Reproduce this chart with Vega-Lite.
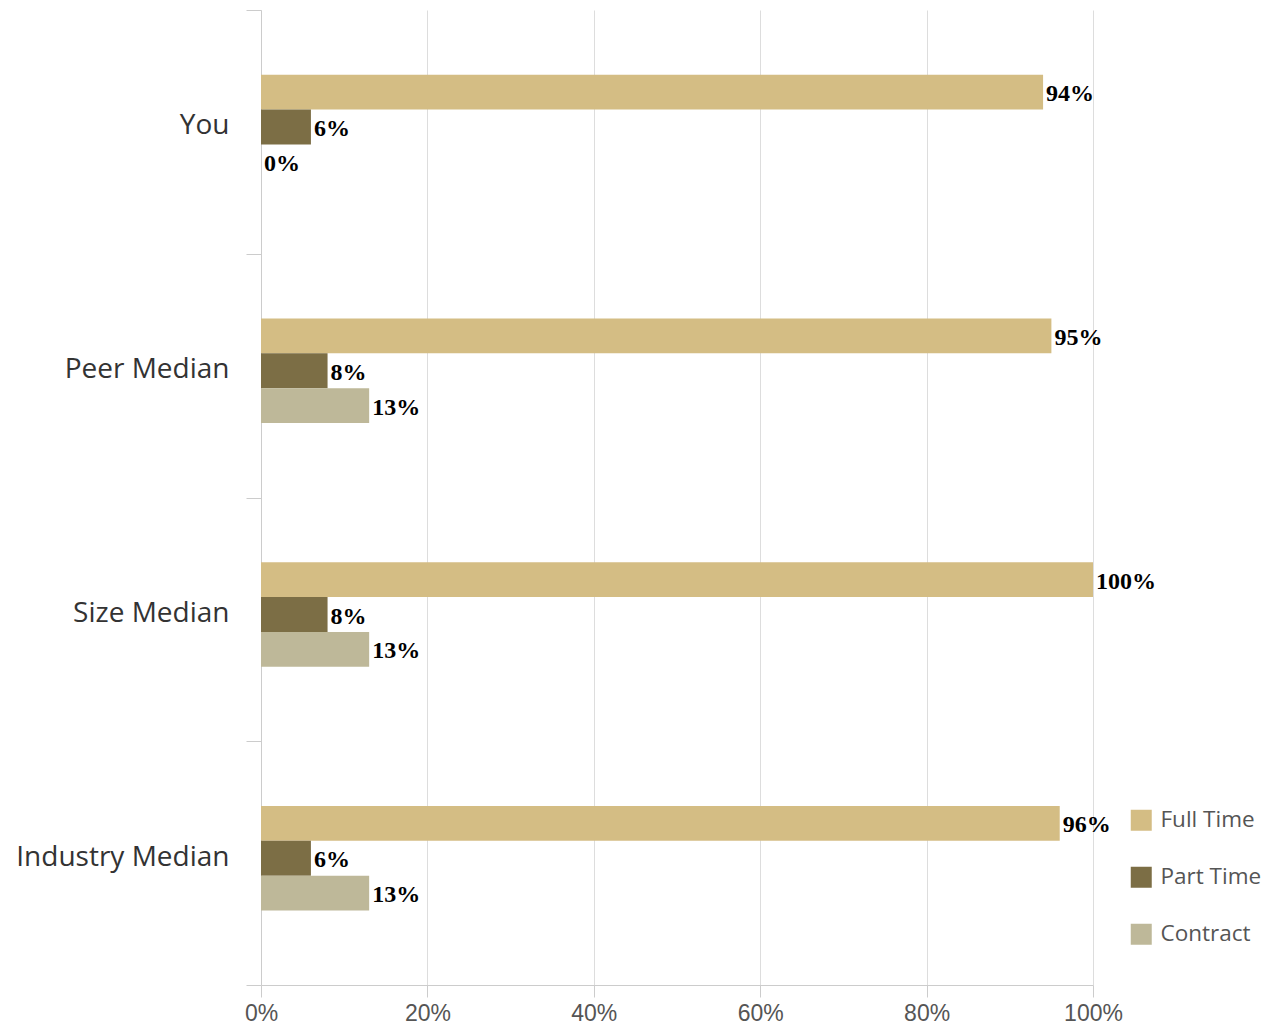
{
  "$schema": "https://vega.github.io/schema/vega-lite/v6.json",
  "autosize": "none",
  "width": 832,
  "height": 975,
  "padding": {"left": 261, "top": 10, "right": 175, "bottom": 42},
  "background": "white",
  "config": {"view": {"stroke": null}},
  "data": {
    "values": [
      {"group": "You", "type": "Full Time", "value": 0.94},
      {"group": "You", "type": "Part Time", "value": 0.06},
      {"group": "You", "type": "Contract", "value": 0.0},
      {"group": "Peer Median", "type": "Full Time", "value": 0.95},
      {"group": "Peer Median", "type": "Part Time", "value": 0.08},
      {"group": "Peer Median", "type": "Contract", "value": 0.13},
      {"group": "Size Median", "type": "Full Time", "value": 1.0},
      {"group": "Size Median", "type": "Part Time", "value": 0.08},
      {"group": "Size Median", "type": "Contract", "value": 0.13},
      {"group": "Industry Median", "type": "Full Time", "value": 0.96},
      {"group": "Industry Median", "type": "Part Time", "value": 0.06},
      {"group": "Industry Median", "type": "Contract", "value": 0.13}
    ]
  },
  "encoding": {
    "y": {
      "field": "group",
      "type": "nominal",
      "sort": ["You", "Peer Median", "Size Median", "Industry Median"],
      "scale": {"paddingInner": 0, "paddingOuter": 0},
      "axis": {
        "title": null,
        "grid": false,
        "tickBand": "extent",
        "tickSize": 15,
        "tickColor": "#cccccc",
        "domainColor": "#cccccc",
        "labelFont": "Open Sans",
        "labelFontSize": 28,
        "labelColor": "#333333",
        "labelPadding": 17,
        "labelLimit": 0,
        "labelOffset": -6
      }
    },
    "yOffset": {
      "field": "type",
      "type": "nominal",
      "scale": {
        "domain": ["_pad_a", "Full Time", "Part Time", "Contract", "_pad_b"],
        "paddingInner": 0,
        "paddingOuter": 1,
        "align": 0.43
      }
    },
    "x": {
      "field": "value",
      "type": "quantitative",
      "scale": {"domain": [0, 1], "nice": false},
      "axis": {
        "title": null,
        "format": ".0%",
        "values": [0, 0.2, 0.4, 0.6, 0.8, 1.0],
        "grid": true,
        "gridColor": "#dddddd",
        "tickSize": 12,
        "tickColor": "#cccccc",
        "domainColor": "#cccccc",
        "labelFlush": false,
        "labelFont": "Liberation Sans",
        "labelFontSize": 23,
        "labelColor": "#555555",
        "labelPadding": 5
      }
    }
  },
  "layer": [
    {
      "mark": {"type": "bar", "height": {"band": 1}},
      "encoding": {
        "color": {
          "field": "type",
          "type": "nominal",
          "scale": {
            "domain": ["Full Time", "Part Time", "Contract"],
            "range": ["#D4BD84", "#7C6E45", "#BEB899"]
          },
          "legend": {
            "title": null,
            "orient": "none",
            "legendX": 869,
            "legendY": 799,
            "symbolType": "square",
            "symbolSize": 441,
            "symbolStrokeWidth": 0,
            "labelFont": "Open Sans",
            "labelFontSize": 22.5,
            "labelColor": "#555555",
            "labelOffset": 8,
            "rowPadding": 34
          }
        }
      }
    },
    {
      "mark": {
        "type": "text",
        "align": "left",
        "baseline": "middle",
        "dx": 3,
        "dy": 2,
        "font": "Liberation Serif",
        "fontWeight": "bold",
        "fontSize": 24,
        "color": "black"
      },
      "encoding": {
        "text": {"field": "value", "type": "quantitative", "format": ".0%"}
      }
    }
  ]
}
